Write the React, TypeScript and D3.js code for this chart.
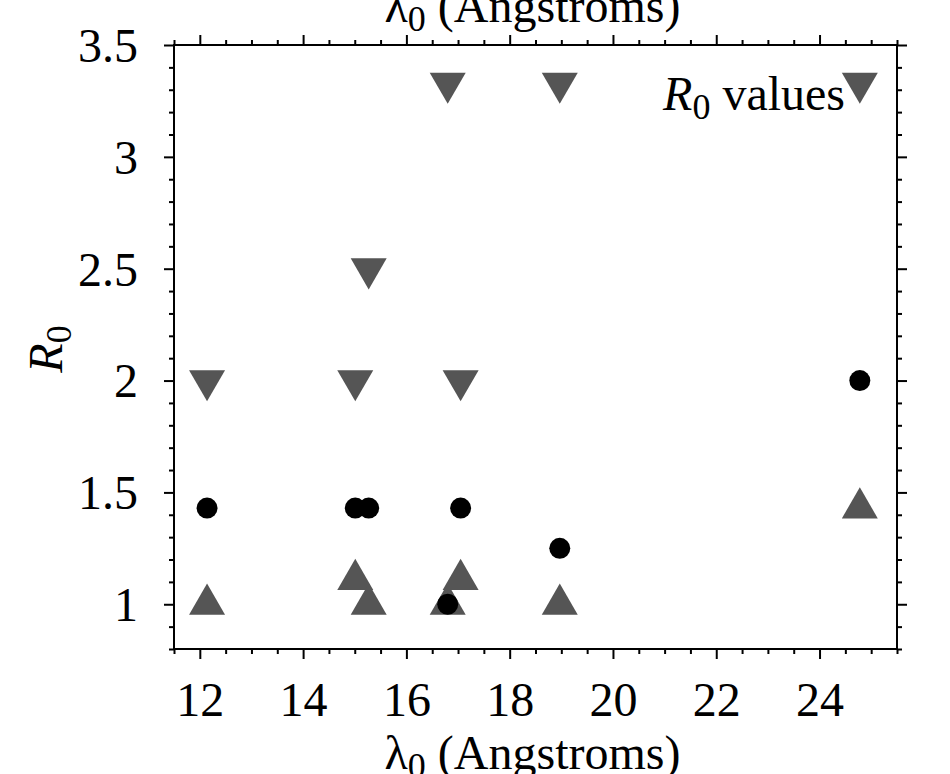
import React, { useRef, useEffect } from "react";
import * as d3 from "d3";

// lambda_0 for each line, and the R0 value with its lower / upper limit
const lambda0 = [12.14, 15.01, 15.27, 16.8, 17.05, 18.97, 24.78];
const r0Values = [1.43, 1.43, 1.43, 1.0, 1.43, 1.25, 2.0];
const r0Lower = [1.0, 1.11, 1.0, 1.0, 1.11, 1.0, 1.43];
const r0Upper = [2.0, 2.0, 2.5, 3.33, 2.0, 3.33, 3.33];

const xTicks = [12, 14, 16, 18, 20, 22, 24];
const xTickLabels = ["12", "14", "16", "18", "20", "22", "24"];
const yTicks = [1, 1.5, 2, 2.5, 3, 3.5];
const yTickLabels = ["1", "1.5", "2", "2.5", "3", "3.5"];

const W = 950;
const H = 774;
const FONT = "'Liberation Serif', 'Times New Roman', serif";
const FS = 48;

const App = () => {
  const svgRef = useRef<SVGSVGElement | null>(null);

  useEffect(() => {
    document.body.style.margin = "0";
    if (!svgRef.current) return;
    const svg = d3.select(svgRef.current);
    svg.selectAll("*").remove();

    const left = 174,
      right = 897,
      top = 45,
      bottom = 649;

    const x = d3.scaleLinear().domain([11.5, 25.5]).range([left, right]);
    const y = d3.scaleLinear().domain([0.8, 3.5]).range([bottom, top]);

    const xMinor = d3.range(11.5, 25.51, 0.5).filter((v) => v % 2 !== 0);
    const yMinor = d3
      .range(8, 36, 1)
      .map((v) => v / 10)
      .filter((v) => Math.round(v * 10) % 5 !== 0);

    // 축 (틱은 모두 바깥쪽)
    const drawAxis = (axis: any, tx: number, ty: number) => {
      const g = svg
        .append("g")
        .attr("transform", `translate(${tx},${ty})`)
        .call(axis);
      g.select(".domain").remove();
      g.selectAll("line").attr("stroke", "#000").attr("stroke-width", 2);
      return g;
    };

    // bottom
    const gb = drawAxis(
      d3
        .axisBottom(x)
        .tickValues(xTicks)
        .tickSize(10)
        .tickFormat((d, i) => xTickLabels[i]),
      0,
      bottom
    );
    gb.selectAll("text")
      .attr("y", 67)
      .attr("dy", 0)
      .style("font-family", FONT)
      .style("font-size", `${FS}px`)
      .attr("fill", "#000");
    drawAxis(
      d3.axisBottom(x).tickValues(xMinor).tickSize(5).tickFormat(() => ""),
      0,
      bottom
    );
    // top
    drawAxis(
      d3.axisTop(x).tickValues(xTicks).tickSize(10).tickFormat(() => ""),
      0,
      top
    );
    drawAxis(
      d3.axisTop(x).tickValues(xMinor).tickSize(5).tickFormat(() => ""),
      0,
      top
    );
    // left
    const gl = drawAxis(
      d3
        .axisLeft(y)
        .tickValues(yTicks)
        .tickSize(10)
        .tickFormat((d, i) => yTickLabels[i]),
      left,
      0
    );
    gl.selectAll("text")
      .attr("x", -36)
      .attr("dy", "0.34em")
      .style("font-family", FONT)
      .style("font-size", `${FS}px`)
      .attr("fill", "#000");
    drawAxis(
      d3.axisLeft(y).tickValues(yMinor).tickSize(5).tickFormat(() => ""),
      left,
      0
    );
    // right
    drawAxis(
      d3.axisRight(y).tickValues(yTicks).tickSize(10).tickFormat(() => ""),
      right,
      0
    );
    drawAxis(
      d3.axisRight(y).tickValues(yMinor).tickSize(5).tickFormat(() => ""),
      right,
      0
    );

    // 프레임
    svg
      .append("rect")
      .attr("x", left)
      .attr("y", top)
      .attr("width", right - left)
      .attr("height", bottom - top)
      .attr("fill", "none")
      .attr("stroke", "#000")
      .attr("stroke-width", 2);

    // 마커
    const tri = d3.symbol().type(d3.symbolTriangle).size(561);
    const gray = "#555555";

    svg
      .append("g")
      .selectAll("path.up")
      .data(lambda0)
      .enter()
      .append("path")
      .attr("class", "up")
      .attr("d", tri as any)
      .attr("fill", gray)
      .attr("transform", (d, i) => `translate(${x(d)},${y(r0Lower[i])})`);

    svg
      .append("g")
      .selectAll("path.down")
      .data(lambda0)
      .enter()
      .append("path")
      .attr("class", "down")
      .attr("d", tri as any)
      .attr("fill", gray)
      .attr(
        "transform",
        (d, i) => `translate(${x(d)},${y(r0Upper[i])}) rotate(180)`
      );

    svg
      .append("g")
      .selectAll("circle")
      .data(lambda0)
      .enter()
      .append("circle")
      .attr("cx", (d) => x(d))
      .attr("cy", (d, i) => y(r0Values[i]))
      .attr("r", 10.5)
      .attr("fill", "#000");

    // 축 라벨
    const lambdaLabel = (yy: number) => {
      const t = svg
        .append("text")
        .attr("x", (left + right) / 2 - 3)
        .attr("y", yy)
        .attr("text-anchor", "middle")
        .style("font-family", FONT)
        .style("font-size", `${FS}px`)
        .attr("fill", "#000");
      t.append("tspan").text("λ");
      t.append("tspan").attr("dy", 9).style("font-size", `${FS * 0.75}px`).text("0");
      t.append("tspan").attr("dy", -9).text(" (Angstroms)");
    };
    lambdaLabel(22);
    lambdaLabel(769);

    const yl = svg
      .append("text")
      .attr("transform", `translate(62,${(top + bottom) / 2 + 2}) rotate(-90)`)
      .attr("text-anchor", "middle")
      .style("font-family", FONT)
      .style("font-size", `${FS}px`)
      .attr("fill", "#000");
    yl.append("tspan").style("font-style", "italic").text("R");
    yl.append("tspan").attr("dy", 9).style("font-size", `${FS * 0.75}px`).text("0");

    // 범례
    const lg = svg
      .append("text")
      .attr("x", 845)
      .attr("y", 110)
      .attr("text-anchor", "end")
      .style("font-family", FONT)
      .style("font-size", `${FS}px`)
      .attr("fill", "#000");
    lg.append("tspan").style("font-style", "italic").text("R");
    lg.append("tspan").attr("dy", 9).style("font-size", `${FS * 0.75}px`).text("0");
    lg.append("tspan").attr("dy", -9).text(" values");
  }, []);

  return <svg ref={svgRef} width={W} height={H} style={{ display: "block", background: "#fff" }} />;
};

export default App;
